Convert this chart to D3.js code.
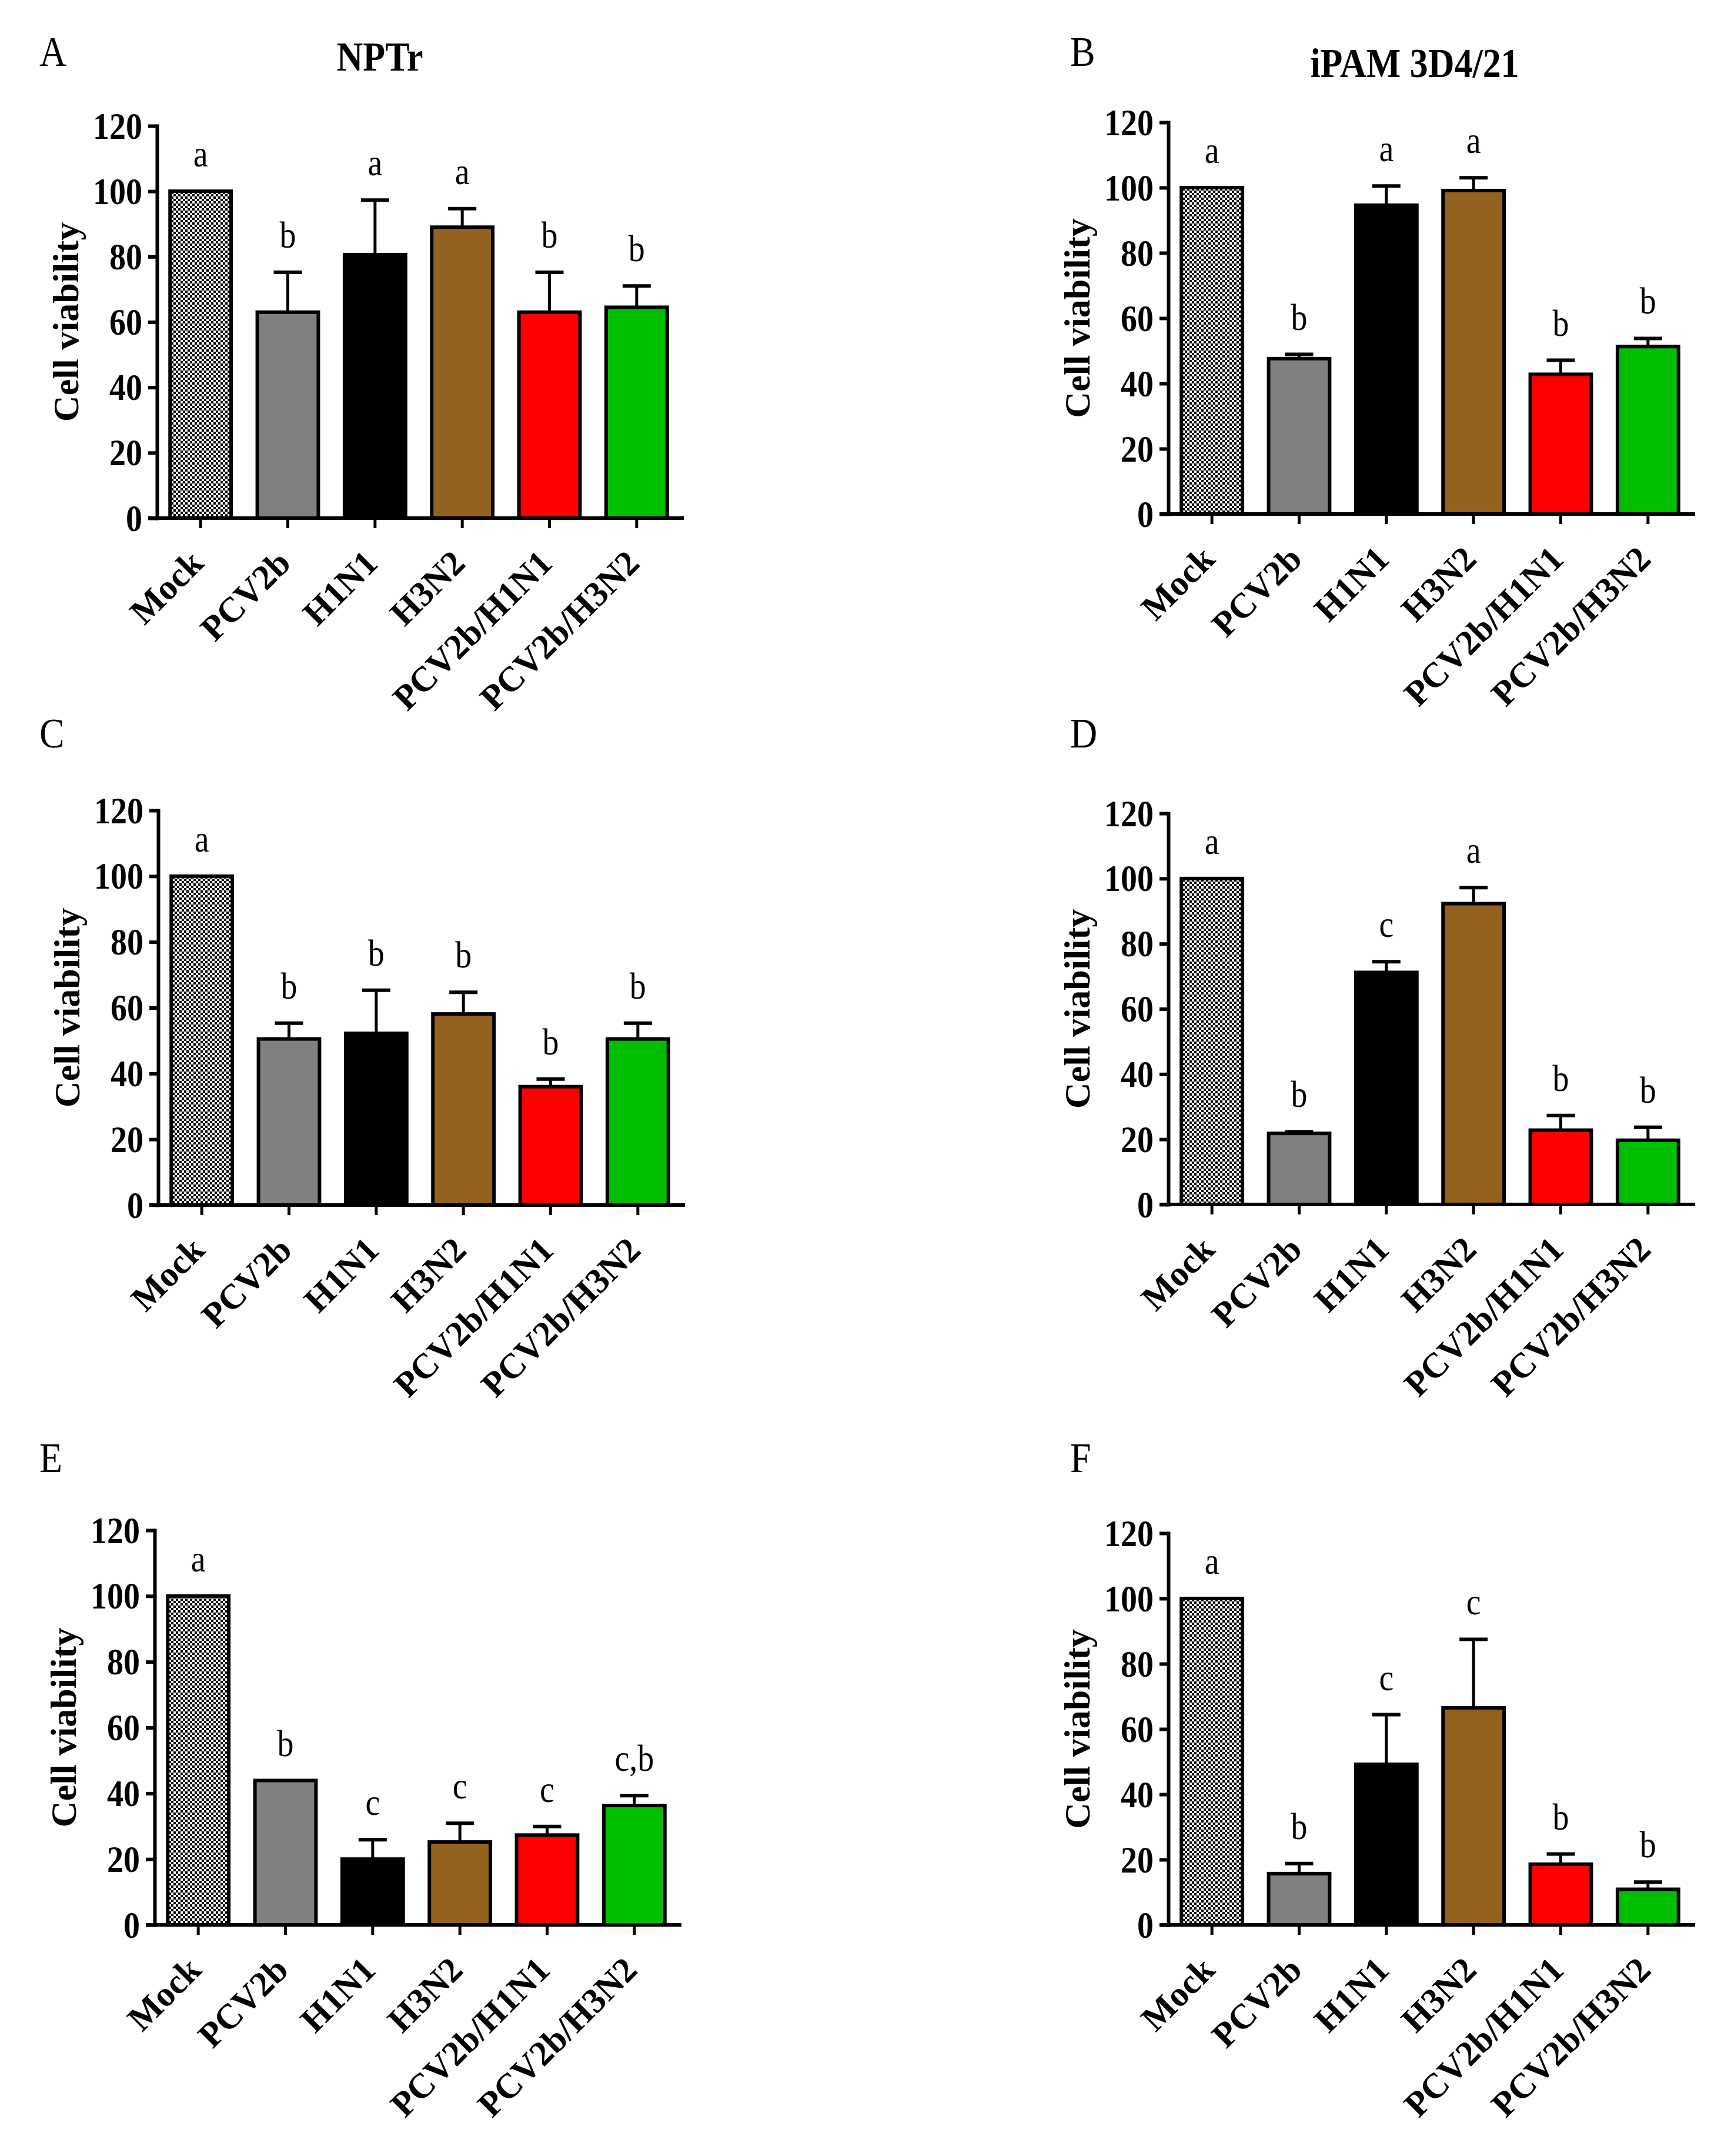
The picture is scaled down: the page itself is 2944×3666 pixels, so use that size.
<!DOCTYPE html>
<html>
<head>
<meta charset="utf-8">
<script src="https://cdn.jsdelivr.net/npm/d3@7"></script>
<style>
  html, body { margin: 0; padding: 0; background: #fff; }
  svg text { font-family: "Liberation Serif", "Times New Roman", serif; fill: #000; }
</style>
</head>
<body>
<div id="fig"></div>
<script>
// Groups on the x axis (same for every panel)
const categories = ["Mock", "PCV2b", "H1N1", "H3N2", "PCV2b/H1N1", "PCV2b/H3N2"];
const yTicks = [0, 20, 40, 60, 80, 100, 120];

// Mean cell viability and SD per panel
const meanA = [100, 63, 80.6, 89, 63, 64.5];
const sdA   = [0, 12.2, 16.7, 5.7, 12.2, 6.5];
const letA  = ["a", "b", "a", "a", "b", "b"];

const meanB = [100, 47.6, 94.6, 99.1, 42.8, 51.3];
const sdB   = [0, 1.3, 5.9, 3.9, 4.3, 2.5];
const letB  = ["a", "b", "a", "a", "b", "b"];

const meanC = [100, 50.5, 52.2, 58.1, 36, 50.5];
const sdC   = [0, 4.8, 13.1, 6.6, 2.3, 4.8];
const letC  = ["a", "b", "b", "b", "b", "b"];

const meanD = [100, 21.8, 71.2, 92.3, 22.8, 19.7];
const sdD   = [0, 0.5, 3.3, 4.9, 4.5, 4.0];
const letD  = ["a", "b", "c", "a", "b", "b"];

const meanE = [100, 43.9, 20, 25.2, 27.3, 36.3];
const sdE   = [0, 0, 5.9, 5.7, 2.6, 3.0];
const letE  = ["a", "b", "c", "c", "c", "c,b"];

const meanF = [100, 15.7, 49.2, 66.5, 18.6, 10.9];
const sdF   = [0, 3.1, 15.2, 21, 3.1, 2.2];
const letF  = ["a", "b", "c", "c", "b", "b"];

const fills = ["url(#checker)", "#808080", "#000000", "#93621f", "#ff0000", "#00be00"];

// Where each panel sits on the page
const panels = [
  { id: "A", mean: meanA, sd: sdA, letters: letA, x0: 267,  top: 214,  bottom: 881,  lx: 67,   ly: 112,  title: "NPTr",        tx: 646,  ty: 120 },
  { id: "B", mean: meanB, sd: sdB, letters: letB, x0: 1987, top: 208,  bottom: 874,  lx: 1820, ly: 112,  title: "iPAM 3D4/21", tx: 2406, ty: 131 },
  { id: "C", mean: meanC, sd: sdC, letters: letC, x0: 269,  top: 1378, bottom: 2049, lx: 67,   ly: 1271 },
  { id: "D", mean: meanD, sd: sdD, letters: letD, x0: 1987, top: 1383, bottom: 2048, lx: 1820, ly: 1271 },
  { id: "E", mean: meanE, sd: sdE, letters: letE, x0: 263,  top: 2602, bottom: 3273, lx: 67,   ly: 2503 },
  { id: "F", mean: meanF, sd: sdF, letters: letF, x0: 1987, top: 2607, bottom: 3273, lx: 1820, ly: 2503 },
];

const W = 2944, H = 3666;
const PW = 890;
const STRETCH = 1.12;   // the source figure's type is a little taller than wide

const svg = d3.select("#fig").append("svg")
  .attr("width", W).attr("height", H)
  .attr("viewBox", `0 0 ${W} ${H}`);

svg.append("rect").attr("width", W).attr("height", H).attr("fill", "#fff");

// fine checkerboard for the Mock bars
const pat = svg.append("defs").append("pattern")
  .attr("id", "checker")
  .attr("width", 8).attr("height", 8)
  .attr("patternUnits", "userSpaceOnUse");
pat.append("rect").attr("width", 8).attr("height", 8).attr("fill", "#fff");
pat.append("rect").attr("width", 4).attr("height", 4).attr("fill", "#000");
pat.append("rect").attr("x", 4).attr("y", 4).attr("width", 4).attr("height", 4).attr("fill", "#000");

panels.forEach(p => {
  // panel letter and optional column title
  svg.append("text")
    .attr("transform", `translate(${p.lx},${p.ly}) scale(1,${STRETCH})`)
    .attr("font-size", 64)
    .text(p.id);
  if (p.title) {
    svg.append("text")
      .attr("transform", `translate(${p.tx},${p.ty}) scale(1,${STRETCH})`)
      .attr("text-anchor", "middle")
      .attr("font-size", 62).attr("font-weight", "bold")
      .text(p.title);
  }

  const h = p.bottom - p.top;
  const g = svg.append("g").attr("transform", `translate(${p.x0},${p.top})`);

  const x = d3.scaleBand().domain(categories).range([0, PW])
    .paddingInner(0.3).paddingOuter(0.15);
  const y = d3.scaleLinear().domain([0, 120]).range([h, 0]);

  const rows = categories.map((c, i) => ({ c, i, v: p.mean[i], sd: p.sd[i], lab: p.letters[i] }));
  const cx = d => x(d.c) + x.bandwidth() / 2;

  // Bars
  g.append("g").selectAll("rect").data(rows).enter().append("rect")
    .attr("x", d => x(d.c))
    .attr("y", d => y(d.v))
    .attr("width", x.bandwidth())
    .attr("height", d => y(0) - y(d.v))
    .attr("fill", d => fills[d.i])
    .attr("stroke", "#000")
    .attr("stroke-width", 6);

  // Upper error bars
  const eb = g.append("g").selectAll("g").data(rows.filter(d => d.sd > 0)).enter().append("g");
  eb.append("line")
    .attr("x1", cx).attr("x2", cx)
    .attr("y1", d => y(d.v)).attr("y2", d => y(d.v + d.sd))
    .attr("stroke", "#000").attr("stroke-width", 5);
  eb.append("line")
    .attr("x1", d => cx(d) - 24).attr("x2", d => cx(d) + 24)
    .attr("y1", d => y(d.v + d.sd)).attr("y2", d => y(d.v + d.sd))
    .attr("stroke", "#000").attr("stroke-width", 6);

  // Significance letters
  g.append("g").selectAll("text").data(rows).enter().append("text")
    .attr("transform", d => `translate(${cx(d)},${y(d.v + d.sd) - 42}) scale(1,${STRETCH})`)
    .attr("text-anchor", "middle")
    .attr("font-size", 56)
    .text(d => d.lab);

  // Y axis
  const ya = g.append("g")
    .call(d3.axisLeft(y).tickValues(yTicks).tickSize(15).tickSizeOuter(0).tickPadding(10));
  ya.select(".domain").attr("stroke-width", 6).attr("stroke-linecap", "square");
  ya.selectAll(".tick line").attr("stroke-width", 6);
  ya.selectAll(".tick text")
    .attr("dy", null).attr("dominant-baseline", "central")
    .attr("transform", `scale(1,${STRETCH})`)
    .attr("font-size", 56).attr("font-weight", "bold")
    .attr("font-family", "Liberation Serif, Times New Roman, serif");

  // X axis
  const xa = g.append("g").attr("transform", `translate(0,${h})`)
    .call(d3.axisBottom(x).tickSize(17).tickSizeOuter(0));
  xa.select(".domain").remove();
  xa.append("line")
    .attr("x1", -15).attr("x2", PW + 6)
    .attr("stroke", "#000").attr("stroke-width", 6);
  xa.selectAll(".tick line").attr("stroke-width", 5);
  xa.selectAll(".tick text")
    .attr("y", null).attr("dy", null)
    .attr("text-anchor", "end")
    .attr("transform", "translate(8,80) rotate(-45)")
    .attr("font-size", 60).attr("font-weight", "bold")
    .attr("font-family", "Liberation Serif, Times New Roman, serif");

  // Y title
  g.append("text")
    .attr("transform", `translate(-134,${h / 2}) rotate(-90)`)
    .attr("text-anchor", "middle")
    .attr("font-size", 62).attr("font-weight", "bold")
    .text("Cell viability");
});
</script>
</body>
</html>
